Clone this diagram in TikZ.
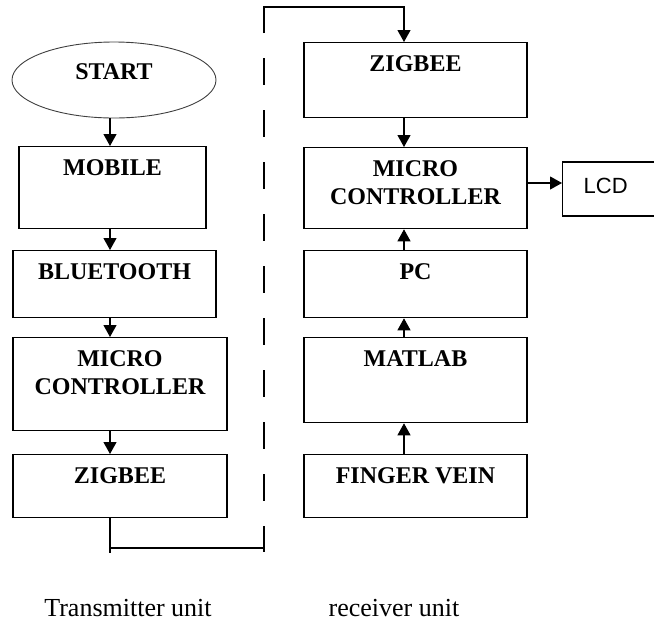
\documentclass[tikz,border=0pt]{standalone}
\usepackage{fontspec}
\setmainfont{Liberation Serif}
\setsansfont{Liberation Sans}
\usetikzlibrary{arrows.meta,shapes.geometric}

\tikzset{
  blk/.style={draw, line width=1.3pt, anchor=north, align=center,
    inner ysep=13pt, text height=16pt,
    font=\fontsize{24}{27.5}\selectfont\bfseries},
  twoline/.style={text height=43.5pt},
  startnode/.style={draw=black!75, ellipse, line width=0.9pt,
    minimum width=204pt, minimum height=76pt, inner sep=2pt,
    text height=16pt, text depth=18pt,
    font=\fontsize{24}{27.5}\selectfont\bfseries},
  flow/.style={-{Triangle[width=13pt,length=12pt]}, line width=1.1pt},
  link/.style={line width=1.1pt},
  unit/.style={anchor=base, font=\fontsize{26}{28}\selectfont}
}

\begin{document}
\begin{tikzpicture}[x=1pt,y=-1pt]
    \useasboundingbox (0,0) rectangle (654,625);

    % transmitter side
    \node[startnode] (start) at (114,80) {START};
    \node[blk, minimum width=187pt, text depth=40pt] (mobile) at (112.5,146) {MOBILE};
    \node[blk, minimum width=203pt, text depth=25pt] (bt)     at (114.5,250) {BLUETOOTH};
    \node[blk, twoline, minimum width=214pt, text depth=23.5pt] (mcl) at (120,337) {MICRO\\CONTROLLER};
    \node[blk, minimum width=214pt, text depth=21pt] (zigl)   at (120,454)   {ZIGBEE};

    % receiver side
    \node[blk, minimum width=223pt, text depth=33pt] (zigr)   at (415.5,42)  {ZIGBEE};
    \node[blk, twoline, minimum width=223pt, text depth=11.5pt] (mcr) at (415.5,147) {MICRO\\CONTROLLER};
    \node[blk, minimum width=223pt, text depth=25pt] (pc)     at (415.5,250) {PC};
    \node[blk, minimum width=223pt, text depth=43pt] (matlab) at (415.5,337) {MATLAB};
    \node[blk, minimum width=223pt, text depth=21pt] (finger) at (415.5,454) {FINGER VEIN};
    \node[draw, line width=1.3pt, anchor=west, minimum height=54pt,
          text width=70pt, align=left, inner xsep=21pt,
          text height=15.8pt, text depth=6pt,
          font=\sffamily\fontsize{22}{24}\selectfont] (lcd) at (562,189) {LCD};

    \coordinate (lspine) at (110,0);
    \coordinate (rspine) at (404,0);
    \coordinate (lcdy)   at (0,183);
    \coordinate (bend)   at (264,548);
    \coordinate (dtop)   at (264,33);
    \coordinate (dbot)   at (264,552);
    \coordinate (top)    at (264,7);

    \draw[flow] (start.south -| lspine) -- (mobile.north -| lspine);
    \draw[flow] (mobile.south -| lspine) -- (bt.north -| lspine);
    \draw[flow] (bt.south -| lspine) -- (mcl.north -| lspine);
    \draw[flow] (mcl.south -| lspine) -- (zigl.north -| lspine);

    % link between the units
    \draw[link] (zigl.south -| lspine) -- ++(0,35);
    \draw[link] (lspine |- bend) -- (bend);
    \draw[link, dash pattern=on 27pt off 25pt, dash phase=27pt] (dtop) -- (dbot);
    \draw[flow] (dtop) -- (top) -| (zigr.north -| rspine);

    \draw[flow] (zigr.south -| rspine) -- (mcr.north -| rspine);
    \draw[flow] (pc.north -| rspine) -- (mcr.south -| rspine);
    \draw[flow] (matlab.north -| rspine) -- (pc.south -| rspine);
    \draw[flow] (finger.north -| rspine) -- (matlab.south -| rspine);
    \draw[flow] (mcr.east |- lcdy) -- (lcd.west |- lcdy);

    \node[unit] (txlabel) at (128,616) {Transmitter unit};
    \node[unit] (rxlabel) at (394,616) {receiver unit};
\end{tikzpicture}
\end{document}
